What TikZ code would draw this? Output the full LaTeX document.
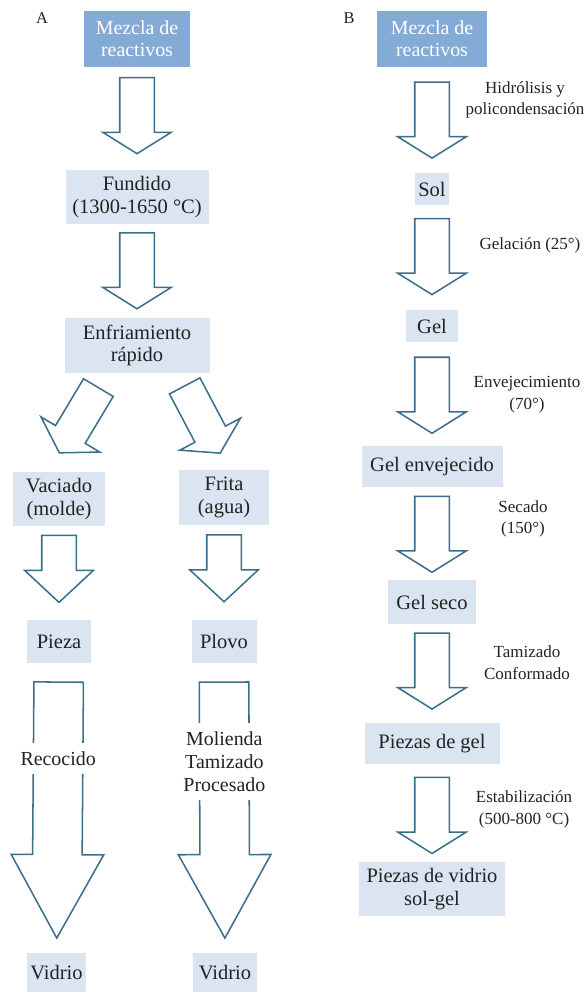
\documentclass[tikz,border=0pt]{standalone}
\usepackage{fontspec}
\setmainfont{Liberation Serif}
\usetikzlibrary{calc,positioning,shapes.arrows}
\definecolor{BoxDark}{HTML}{84AAD6}
\definecolor{BoxLight}{HTML}{DBE5F1}
\definecolor{ArrLine}{HTML}{3C6E8C}
\definecolor{TxtDark}{HTML}{222222}

\begin{document}
\begin{tikzpicture}[x=0.3mm, y=-0.3mm,
  start/.style={rectangle, fill=BoxDark, text=white, minimum width=31.8mm,
                minimum height=16.8mm, inner sep=0pt, align=center,
                font=\fontsize{17}{19}\selectfont},
  stage/.style={rectangle, fill=BoxLight, text=TxtDark, minimum height=12.6mm,
                inner sep=0pt, align=center, font=\fontsize{17.5}{19}\selectfont},
  lbl/.style={font=\fontsize{14.5}{18.5}\selectfont, text=TxtDark, align=center},
  gap/.style={fill=white, inner sep=2.5mm, text=TxtDark, align=center,
              font=\fontsize{17}{20}\selectfont},
  flow/.style={single arrow, draw=ArrLine, line width=1.3pt, fill=white,
               sloped, allow upside down, inner xsep=0pt, inner ysep=4.95mm,
               single arrow head extend=5.1mm, single arrow tip angle=116,
               minimum height=22.8mm},
  bigflow/.style={flow, inner ysep=7.2mm, single arrow head extend=6.45mm,
                  single arrow tip angle=58, minimum height=76.8mm}
]
  \useasboundingbox (0,0) rectangle (586,993);

  % A
  \node[font=\fontsize{14}{16}\selectfont, text=TxtDark] (labA) at (42,18) {A};
  \node[start]                                     (mezA)  at (137, 39)    {Mezcla de\\reactivos};
  \node[stage, minimum width=42.9mm, minimum height=16.2mm] (fundA) at (137, 197) {Fundido\\(1300-1650 °C)};
  \node[stage, minimum width=43.5mm, minimum height=16.5mm] (enfA)  at (137, 345.5) {Enfriamiento\\rápido};
  \node[stage, minimum width=27.3mm, minimum height=16.2mm] (vacA)  at (59, 499)  {Vaciado\\(molde)};
  \node[stage, minimum width=27mm,   minimum height=16.5mm] (friA)  at (224, 497.5) {Frita\\(agua)};
  \node[stage, minimum width=19.2mm, minimum height=12.9mm] (piezA) at (59, 641.5) {Pieza};
  \node[stage, minimum width=19.5mm, minimum height=12.9mm] (plovA) at (224, 641.5) {Plovo};
  \node[stage, minimum width=17.7mm, minimum height=11.7mm] (vidA1) at (56.5, 972.5) {Vidrio};
  \node[stage, minimum width=19.2mm, minimum height=11.7mm] (vidA2) at (225, 972.5) {Vidrio};

  \path (mezA) -- node[flow, pos=0.42] {} (fundA);
  \path (fundA) -- node[flow, pos=0.44] {} (enfA);
  \path ($(enfA.south)+(-30,0)$) -- node[flow, pos=0.43] {} ($(vacA.north)+(-11,0)$);
  \path ($(enfA.south)+(41,0)$) -- node[flow, pos=0.43] {} ($(friA.north)+(5,0)$);
  \path (vacA) -- node[flow, pos=0.37, minimum height=20.1mm, single arrow tip angle=94] {} (piezA);
  \path (friA) -- node[flow, pos=0.37, minimum height=20.1mm, single arrow tip angle=94] {} (plovA);
  \path (piezA) -- node[bigflow, pos=0.43] {} node[gap, pos=0.33] (recA) {Recocido} (vidA1);
  \path (plovA) -- node[bigflow, pos=0.43] {} node[gap, pos=0.34] (molA) {Molienda\\Tamizado\\Procesado} (vidA2);

  % B
  \node[font=\fontsize{14}{16}\selectfont, text=TxtDark] (labB) at (349,18) {B};
  \node[start, minimum width=33mm]                          (mezB) at (432, 39)  {Mezcla de\\reactivos};
  \node[stage, minimum width=10.2mm, minimum height=9.6mm]  (solB) at (432, 189) {Sol};
  \node[stage, minimum width=15.6mm, minimum height=9.6mm]  (gelB) at (432, 326) {Gel};
  \node[stage, minimum width=42.3mm, minimum height=12.3mm] (envB) at (432, 466.5) {Gel envejecido};
  \node[stage, minimum width=26.4mm, minimum height=13.2mm] (secB) at (432, 602) {Gel seco};
  \node[stage, minimum width=40.5mm, minimum height=12.3mm] (pzgB) at (432, 743.5) {Piezas de gel};
  \node[stage, minimum width=43.8mm, minimum height=16.2mm] (pzvB) at (432, 889) {Piezas de vidrio\\sol-gel};

  \path (mezB) -- node[flow, pos=0.45] {} (solB);
  \path (solB) -- node[flow, pos=0.44] {} (gelB);
  \path (gelB) -- node[flow, pos=0.46] {} (envB);
  \path (envB) -- node[flow, pos=0.45] {} (secB);
  \path (secB) -- node[flow, pos=0.42] {} (pzgB);
  \path (pzgB) -- node[flow, pos=0.47] {} (pzvB);

  \node[lbl] (hidB) at (525, 100)   {Hidrólisis y\\policondensación};
  \node[lbl] (glcB) at (530, 245)   {Gelación (25°)};
  \node[lbl] (envL) at (527, 395)   {Envejecimiento\\(70°)};
  \node[lbl] (secL) at (523, 519)   {Secado\\(150°)};
  \node[lbl] (tamL) at (527, 663)   {Tamizado\\Conformado};
  \node[lbl] (estL) at (524, 809.5) {Estabilización\\(500-800 °C)};
\end{tikzpicture}
\end{document}
